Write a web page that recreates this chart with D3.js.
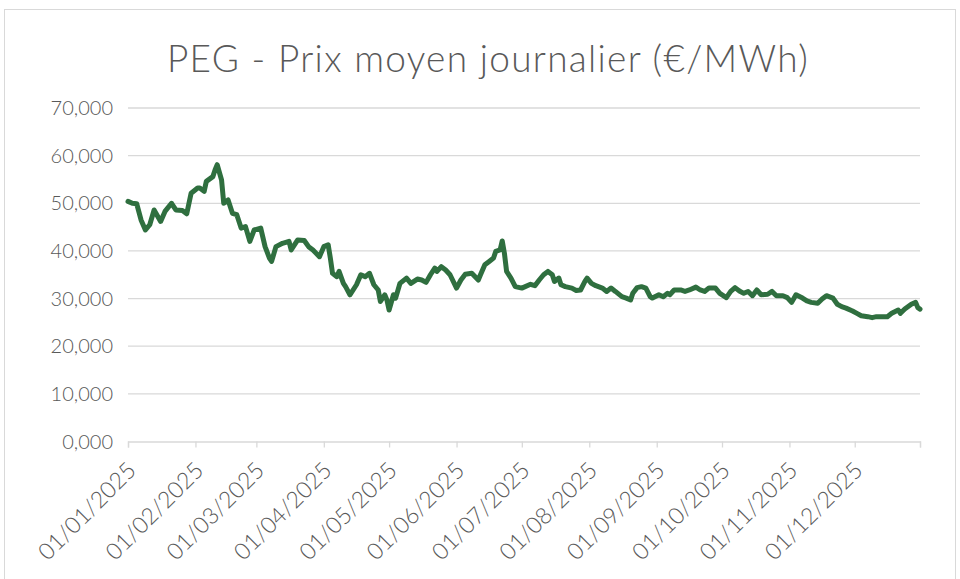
<!DOCTYPE html>
<html lang="fr">
<head>
<meta charset="utf-8">
<style>
  body { margin: 0; background: #fff; }
  svg { font-family: Lato, 'Open Sans', sans-serif; }
  .grid line { stroke: #d9d9d9; stroke-width: 1.3px; }
  .axis-label { fill: #595959; }
</style>
</head>
<body>
<svg width="960" height="579"></svg>
<script src="https://cdn.jsdelivr.net/npm/d3@7"></script>
<script>
// days since 01/01/2025 and daily average price (€/MWh)
const dayIndex = [0, 2, 4, 6, 8, 10, 12, 15, 17, 20, 22, 25, 27, 29, 32, 33, 35, 36, 39, 40,
  41, 43, 44, 46, 48, 50, 52, 54, 56, 58, 61, 63, 65, 66, 68, 71, 74, 75, 78, 81,
  83, 85, 88, 90, 92, 93, 94, 96, 97, 99, 100, 102, 105, 107, 109, 111, 113, 115, 116, 118,
  119, 120, 122, 123, 125, 128, 130, 133, 135, 137, 139, 141, 142, 144, 146, 148, 151, 153, 155, 158,
  161, 162, 164, 166, 168, 169, 171, 172, 173, 174, 176, 178, 181, 185, 187, 189, 191, 193, 195, 196,
  198, 199, 201, 204, 206, 208, 210, 211, 213, 215, 218, 220, 222, 224, 227, 229, 231, 232, 234, 236,
  238, 240, 241, 244, 246, 248, 249, 251, 254, 256, 258, 261, 263, 265, 267, 270, 272, 275, 277, 279,
  281, 283, 285, 287, 289, 291, 294, 296, 298, 301, 303, 305, 307, 310, 312, 314, 317, 319, 321, 324,
  326, 328, 330, 333, 335, 337, 340, 342, 344, 347, 349, 351, 354, 355, 357, 360, 362, 363, 364];
const prices = [50.4, 50.0, 49.9, 46.5, 44.4, 45.5, 48.6, 46.2, 48.3, 50.0, 48.6, 48.5, 47.8, 52.1, 53.2, 53.2, 52.5, 54.6, 55.6, 57.0,
  58.1, 54.9, 50.0, 50.7, 47.9, 47.6, 44.8, 45.1, 42.0, 44.4, 44.8, 40.9, 38.5, 37.8, 40.9, 41.6, 42.0, 40.2, 42.3, 42.2,
  40.9, 40.2, 38.8, 40.9, 41.3, 38.5, 35.3, 34.6, 35.7, 33.2, 32.5, 30.8, 32.9, 35.0, 34.6, 35.3, 32.9, 31.8, 29.4, 30.8,
  29.7, 27.6, 30.8, 30.1, 33.2, 34.3, 33.2, 34.1, 33.9, 33.4, 35.0, 36.4, 35.7, 36.7, 36.0, 35.0, 32.2, 33.9, 35.1, 35.3,
  33.9, 35.0, 37.1, 37.8, 38.5, 39.9, 40.2, 42.1, 39.5, 35.7, 34.3, 32.5, 32.2, 33.0, 32.7, 33.9, 35.0, 35.7, 35.0, 33.6,
  34.3, 32.9, 32.5, 32.2, 31.7, 31.8, 33.6, 34.3, 33.2, 32.7, 32.2, 31.5, 32.2, 31.5, 30.4, 30.1, 29.7, 31.1, 32.3, 32.5,
  32.2, 30.4, 30.1, 30.8, 30.4, 31.1, 30.8, 31.8, 31.8, 31.5, 31.8, 32.4, 31.8, 31.5, 32.2, 32.2, 31.1, 30.2, 31.5, 32.3,
  31.6, 31.1, 31.5, 30.6, 31.8, 30.8, 30.9, 31.5, 30.6, 30.6, 30.2, 29.2, 30.8, 30.1, 29.5, 29.2, 29.0, 29.9, 30.6, 30.1,
  28.8, 28.3, 28.0, 27.4, 26.9, 26.4, 26.2, 26.0, 26.2, 26.2, 26.2, 26.9, 27.6, 26.9, 27.8, 28.8, 29.2, 28.1, 27.8];
const yTicks = [0, 10, 20, 30, 40, 50, 60, 70];
const monthTicks = ["2025-01-01", "2025-02-01", "2025-03-01", "2025-04-01", "2025-05-01", "2025-06-01",
  "2025-07-01", "2025-08-01", "2025-09-01", "2025-10-01", "2025-11-01", "2025-12-01"];
const title = "PEG - Prix moyen journalier (€/MWh)";

const start = new Date(2025, 0, 1);
const data = dayIndex.map((d, i) => ({ date: d3.timeDay.offset(start, d), value: prices[i] }));
const ticks = monthTicks.map(d => d3.timeParse("%Y-%m-%d")(d));

const svg = d3.select("svg");
const fr = d3.formatLocale({ decimal: ",", thousands: " ", grouping: [3], currency: ["", " €"] });
const fmt = fr.format(".3f");

// chart border
svg.append("rect")
  .attr("x", 4.5).attr("y", 9.5).attr("width", 951).attr("height", 580)
  .attr("fill", "none").attr("stroke", "#d9d9d9");

const x = d3.scaleTime()
  .domain([start, new Date(2025, 11, 31)])
  .range([128, 920]);
const y = d3.scaleLinear().domain([0, 70]).range([441.5, 108]);

svg.append("text")
  .attr("class", "axis-label")
  .attr("x", 488).attr("y", 72)
  .attr("text-anchor", "middle")
  .style("font-size", "37px")
  .style("font-weight", 300)
  .style("letter-spacing", "1.3px")
  .text(title);

// horizontal gridlines (baseline drawn by the x axis)
svg.append("g").attr("class", "grid")
  .selectAll("line")
  .data(yTicks.filter(d => d > 0))
  .join("line")
  .attr("x1", 128).attr("x2", 920)
  .attr("y1", d => y(d)).attr("y2", d => y(d));

svg.append("g")
  .selectAll("text")
  .data(yTicks)
  .join("text")
  .attr("class", "axis-label")
  .attr("x", 113).attr("y", d => y(d))
  .attr("dy", "0.35em")
  .attr("text-anchor", "end")
  .style("font-size", "20px")
  .style("font-weight", 300)
  .text(d => fmt(d));

// x axis
const xAxis = d3.axisBottom(x)
  .tickValues(ticks.concat([x.domain()[1]]))
  .tickSize(6)
  .tickFormat("");
const gx = svg.append("g")
  .attr("transform", `translate(0,${y(0)})`)
  .call(xAxis);
gx.select(".domain").attr("stroke", "#d9d9d9").attr("stroke-width", 1.3);
gx.selectAll(".tick line").attr("stroke", "#d9d9d9").attr("stroke-width", 1.3);

svg.append("g")
  .selectAll("text")
  .data(ticks)
  .join("text")
  .attr("class", "axis-label")
  .attr("text-anchor", "end")
  .attr("transform", d => `translate(${x(d) - 2},${y(0) + 19}) rotate(-45)`)
  .attr("dy", "0.7em")
  .style("font-size", "23px")
  .style("font-weight", 300)
  .text(d3.timeFormat("%d/%m/%Y"));

const line = d3.line()
  .x(d => x(d.date))
  .y(d => y(d.value));

svg.append("path")
  .datum(data)
  .attr("fill", "none")
  .attr("stroke", "#2f6f3f")
  .attr("stroke-width", 5)
  .attr("stroke-linejoin", "round")
  .attr("stroke-linecap", "round")
  .attr("d", line);
</script>
</body>
</html>
